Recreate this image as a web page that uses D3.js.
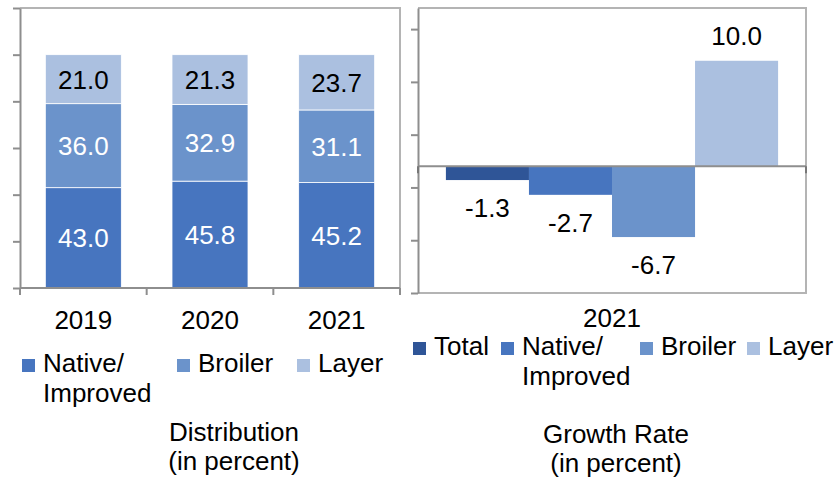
<!DOCTYPE html>
<html>
<head>
<meta charset="utf-8">
<script src="https://cdn.jsdelivr.net/npm/d3@7"></script>
<style>
  html, body { margin: 0; padding: 0; background: #fff; }
  svg { display: block; font-family: "Liberation Sans", Arial, sans-serif; }
</style>
</head>
<body>
<svg id="chart" width="834" height="477"></svg>
<script>
/* ── DATA ─────────────────────────────────────── */
const years        = ['2019', '2020', '2021'];
const nativeShare  = [43.0, 45.8, 45.2];
const broilerShare = [36.0, 32.9, 31.1];
const layerShare   = [21.0, 21.3, 23.7];
const distTicks    = [0, 20, 40, 60, 80, 100, 120];

const growthYear   = '2021';
const growthSeries = ['Total', 'Native/Improved', 'Broiler', 'Layer'];
const growthValues = [-1.3, -2.7, -6.7, 10.0];
const growthTicks  = [-12, -7, -2, 3, 8, 13];

const COLORS = {
  'Total': '#2f5597',
  'Native/Improved': '#4775bf',
  'Broiler': '#6b93cb',
  'Layer': '#abc0e0'
};
const AXIS_GREY  = '#8e8e8e';
const FRAME_GREY = '#b4b4b4';

const svg = d3.select('#chart');

/* ── LEFT: DISTRIBUTION (stacked) ─────────────── */
const L = { left: 20, right: 400, top: 8, bottom: 288 };
const xL = d3.scaleBand().domain(years).range([L.left, L.right])
  .paddingInner(0.4).paddingOuter(0.2);
const yL = d3.scaleLinear().domain([0, 120]).range([L.bottom, L.top]);

const rows = years.map((y, i) => ({
  year: y, 'Native/Improved': nativeShare[i], 'Broiler': broilerShare[i], 'Layer': layerShare[i]
}));
const stackKeys = ['Native/Improved', 'Broiler', 'Layer'];
const stacked = d3.stack().keys(stackKeys)(rows);

// frame (top + right)
svg.append('path')
  .attr('d', `M${L.left},${L.top}H${L.right}V${L.bottom}`)
  .attr('fill', 'none').attr('stroke', FRAME_GREY).attr('stroke-width', 2);

const gL = svg.append('g');
stacked.forEach(layer => {
  gL.selectAll(null).data(layer).enter().append('rect')
    .attr('x', d => xL(d.data.year))
    .attr('width', xL.bandwidth())
    .attr('y', d => yL(d[1]))
    .attr('height', d => yL(d[0]) - yL(d[1]))
    .attr('fill', COLORS[layer.key])
    .attr('stroke', '#fff').attr('stroke-width', 0.8);
  gL.selectAll(null).data(layer).enter().append('text')
    .attr('x', d => xL(d.data.year) + xL.bandwidth() / 2)
    .attr('y', d => (yL(d[0]) + yL(d[1])) / 2)
    .attr('dy', '0.36em')
    .attr('text-anchor', 'middle')
    .attr('font-size', 26)
    .attr('fill', layer.key === 'Layer' ? '#000' : '#fff')
    .text(d => (d[1] - d[0]).toFixed(1));
});

// y axis (no labels)
const axL = svg.append('g').attr('transform', `translate(${L.left},0)`)
  .call(d3.axisLeft(yL).tickValues(distTicks).tickFormat('').tickSize(7).tickSizeOuter(0));
axL.selectAll('path, line').attr('stroke', AXIS_GREY).attr('stroke-width', 2);

// x axis: tick marks at band boundaries
const xBounds = [L.left].concat(years.map(y => xL(y) + xL.bandwidth() + xL.step() * 0.2));
const gxL = svg.append('g');
gxL.append('line').attr('x1', L.left).attr('x2', L.right)
  .attr('y1', L.bottom).attr('y2', L.bottom)
  .attr('stroke', AXIS_GREY).attr('stroke-width', 2);
gxL.selectAll(null).data(xBounds).enter().append('line')
  .attr('x1', d => d).attr('x2', d => d)
  .attr('y1', L.bottom).attr('y2', L.bottom + 7)
  .attr('stroke', AXIS_GREY).attr('stroke-width', 2);
gxL.selectAll(null).data(years).enter().append('text')
  .attr('x', d => xL(d) + xL.bandwidth() / 2)
  .attr('y', 329)
  .attr('text-anchor', 'middle').attr('font-size', 26).attr('fill', '#000')
  .text(d => d);

/* ── RIGHT: GROWTH RATE ───────────────────────── */
const R = { left: 418, right: 806, top: 8, bottom: 293 };
const xR = d3.scaleBand().domain([growthYear]).range([R.left, R.right])
  .paddingInner(0).paddingOuter(0.084);
const xRi = d3.scaleBand().domain(growthSeries).range([0, xR.bandwidth()]).padding(0);
const yR = d3.scaleLinear().domain([-12, 15]).range([R.bottom, R.top]);

svg.append('path')
  .attr('d', `M${R.left},${R.top}H${R.right}V${R.bottom}H${R.left}`)
  .attr('fill', 'none').attr('stroke', FRAME_GREY).attr('stroke-width', 2);

const gR = svg.append('g');
gR.selectAll(null).data(growthSeries).enter().append('rect')
  .attr('x', d => xR(growthYear) + xRi(d))
  .attr('width', xRi.bandwidth())
  .attr('y', (d, i) => yR(Math.max(0, growthValues[i])))
  .attr('height', (d, i) => Math.abs(yR(growthValues[i]) - yR(0)))
  .attr('fill', d => COLORS[d]);

gR.selectAll(null).data(growthSeries).enter().append('text')
  .attr('x', d => xR(growthYear) + xRi(d) + xRi.bandwidth() / 2)
  .attr('y', (d, i) => growthValues[i] < 0 ? yR(growthValues[i]) + 37 : yR(growthValues[i]) - 16)
  .attr('text-anchor', 'middle').attr('font-size', 26).attr('fill', '#000')
  .text((d, i) => growthValues[i].toFixed(1));

const axR = svg.append('g').attr('transform', `translate(${R.left},0)`)
  .call(d3.axisLeft(yR).tickValues(growthTicks).tickFormat('').tickSize(7).tickSizeOuter(0));
axR.selectAll('path, line').attr('stroke', AXIS_GREY).attr('stroke-width', 2);

// zero line with end ticks
const y0 = yR(0);
svg.append('line').attr('x1', R.left).attr('x2', R.right)
  .attr('y1', y0).attr('y2', y0)
  .attr('stroke', AXIS_GREY).attr('stroke-width', 2);
svg.selectAll(null).data(xR.range()).enter().append('line')
  .attr('x1', d => d).attr('x2', d => d)
  .attr('y1', y0).attr('y2', y0 + 7)
  .attr('stroke', '#777').attr('stroke-width', 2);

svg.append('text')
  .attr('x', xR(growthYear) + xR.bandwidth() / 2).attr('y', 327)
  .attr('text-anchor', 'middle').attr('font-size', 26).attr('fill', '#000')
  .text(growthYear);

/* ── LEGENDS ──────────────────────────────────── */
function legendItem(x, baseline, key, lines) {
  const g = svg.append('g');
  g.append('rect').attr('x', x).attr('y', baseline - 13)
    .attr('width', 13).attr('height', 13).attr('fill', COLORS[key]);
  lines.forEach((t, i) => {
    g.append('text').attr('x', x + 21).attr('y', baseline + i * 30)
      .attr('font-size', 26).attr('fill', '#000').text(t);
  });
}
legendItem(22, 372, 'Native/Improved', ['Native/', 'Improved']);
legendItem(177, 372, 'Broiler', ['Broiler']);
legendItem(297, 372, 'Layer', ['Layer']);

legendItem(413, 355, 'Total', ['Total']);
legendItem(501, 355, 'Native/Improved', ['Native/', 'Improved']);
legendItem(640, 355, 'Broiler', ['Broiler']);
legendItem(747, 355, 'Layer', ['Layer']);

/* ── TITLES ───────────────────────────────────── */
function title(cx, y, lines) {
  lines.forEach((t, i) => {
    svg.append('text').attr('x', cx).attr('y', y + i * 29)
      .attr('text-anchor', 'middle').attr('font-size', 26).attr('fill', '#000').text(t);
  });
}
title(234, 441, ['Distribution', '(in percent)']);
title(616, 443, ['Growth Rate', '(in percent)']);
</script>
</body>
</html>
